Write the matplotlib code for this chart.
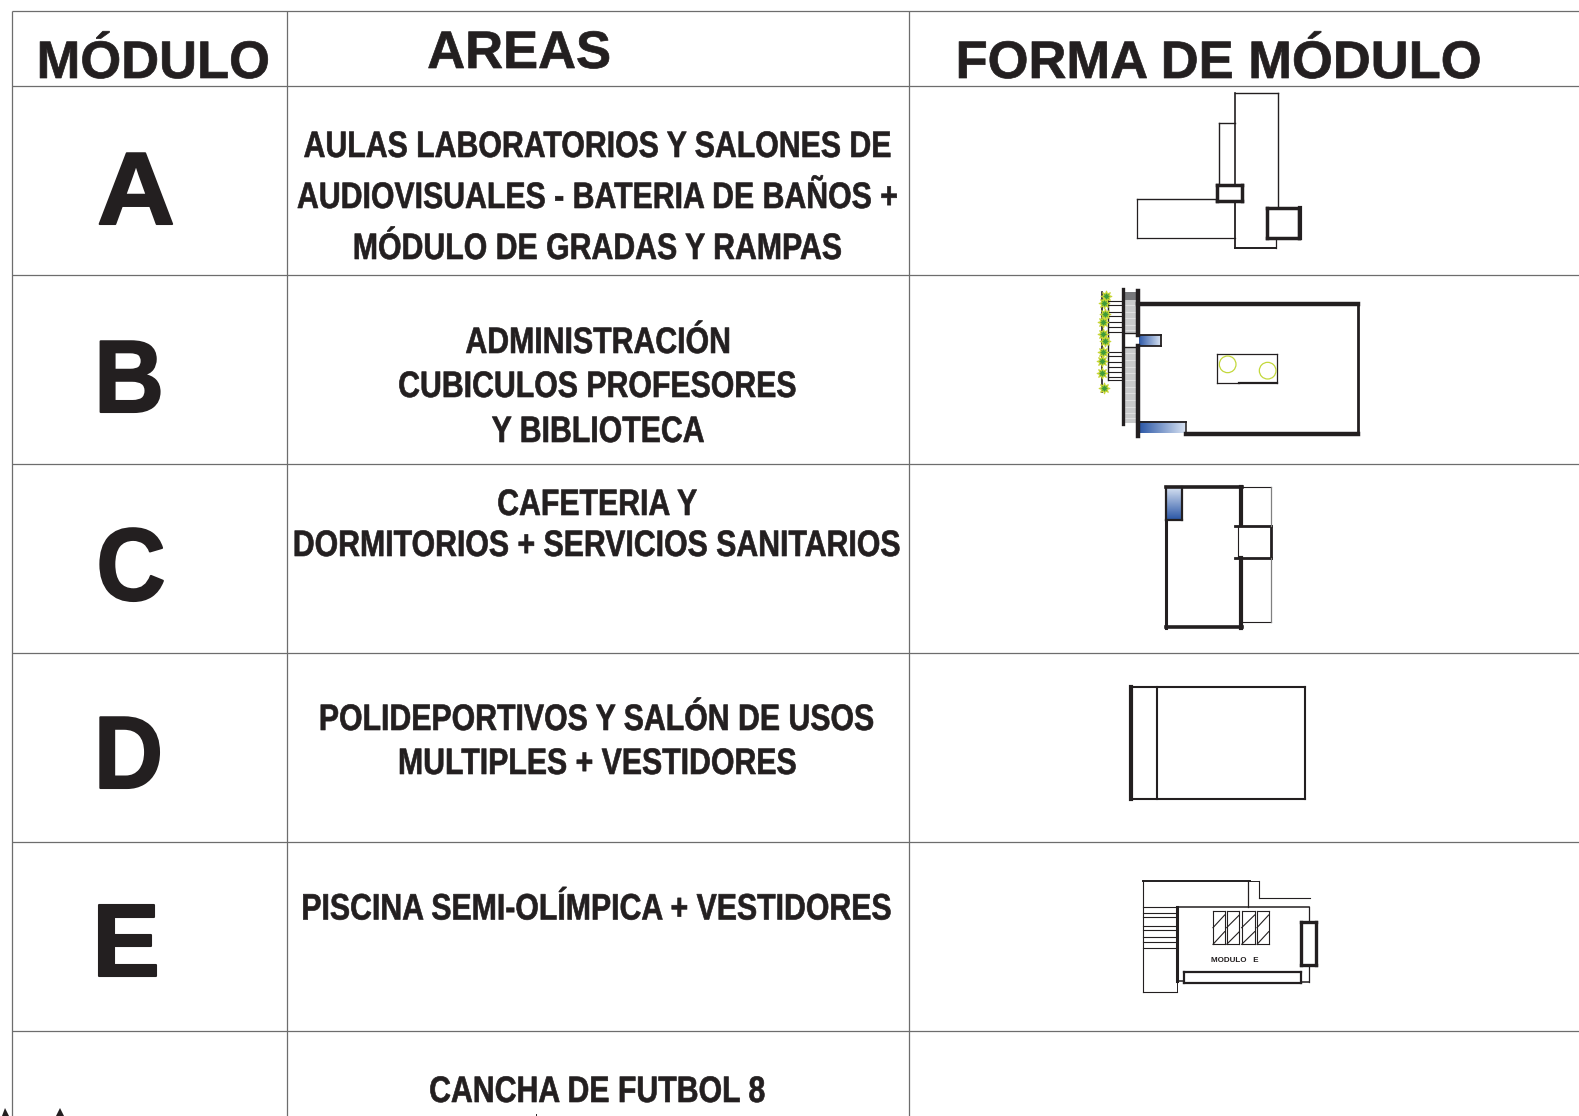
import numpy as np
import matplotlib
matplotlib.use("Agg")
import matplotlib.pyplot as plt
from matplotlib.colors import LinearSegmentedColormap
from matplotlib.patches import Circle, Polygon
from matplotlib.patheffects import AbstractPathEffect
from matplotlib.transforms import Affine2D

W, H = 1579, 1116
INK = '#231f20'
GRID = '#6d6d6d'

# ---- table content
headers = ['MÓDULO', 'AREAS', 'FORMA DE MÓDULO']
header_x = [153, 519, 1218]
header_y = [78, 68, 78]
modules = ['A', 'B', 'C', 'D', 'E']
module_x = [136, 129, 131, 128.5, 126]
module_y = [224, 412, 600, 788, 976]
module_sx = [1.05, 0.94, 0.93, 0.93, 0.98]
area_lines = ['AULAS LABORATORIOS Y SALONES DE', 'AUDIOVISUALES - BATERIA DE BAÑOS +',
              'MÓDULO DE GRADAS Y RAMPAS', 'ADMINISTRACIÓN', 'CUBICULOS PROFESORES', 'Y BIBLIOTECA',
              'CAFETERIA Y', 'DORMITORIOS + SERVICIOS SANITARIOS',
              'POLIDEPORTIVOS Y SALÓN DE USOS', 'MULTIPLES + VESTIDORES',
              'PISCINA SEMI-OLÍMPICA + VESTIDORES', 'CANCHA DE FUTBOL 8']
area_x = [597, 597, 597, 598, 597, 598, 597, 596, 596, 597, 596, 597]
area_y = [157, 208, 259, 353, 397, 442, 515, 556, 730, 774, 919.5, 1102]
row_y = [11, 86, 275, 464, 653, 842, 1031]
col_x = [12, 287, 909]

fig = plt.figure(figsize=(W / 100, H / 100), dpi=100)
ax = fig.add_axes([0, 0, 1, 1])
ax.set_xlim(0, W)
ax.set_ylim(H, 0)
ax.axis('off')


class Squeeze(AbstractPathEffect):
    """Draw the real text narrower about its anchor, with a light stroke for weight."""

    def __init__(self, x, sx, stroke=0.0):
        super().__init__()
        self.x, self.sx, self.stroke = x, sx, stroke

    def draw_path(self, renderer, gc, tpath, affine, rgbFace=None):
        cx = ax.transData.transform((self.x, 0))[0]
        t = affine + Affine2D().translate(-cx, 0).scale(self.sx, 1).translate(cx, 0)
        g = renderer.new_gc()
        g.copy_properties(gc)
        g.set_linewidth(self.stroke)
        if self.stroke > 0 and rgbFace is not None:
            g.set_foreground(rgbFace)
        renderer.draw_path(g, tpath, t, rgbFace)
        g.restore()


for y in row_y:
    ax.plot([12, W], [y, y], color=GRID, lw=0.9, solid_capstyle='butt')
for x in col_x:
    ax.plot([x, x], [11, H], color=GRID, lw=0.9, solid_capstyle='butt')

for t, x, y in zip(headers, header_x, header_y):
    ax.text(x, y, t, family='Liberation Sans', weight='bold', fontsize=38, color=INK, ha='center', va='baseline',
            path_effects=[Squeeze(x, 0.995, 0.5)])
for t, x, y, sx in zip(modules, module_x, module_y, module_sx):
    ax.text(x, y, t, family='Liberation Sans', weight='bold', fontsize=74, color=INK, ha='center', va='baseline',
            path_effects=[Squeeze(x, sx, 1.5)])
for t, x, y in zip(area_lines, area_x, area_y):
    ax.text(x, y, t, family='Liberation Sans', weight='bold', fontsize=26.5, color=INK, ha='center', va='baseline',
            path_effects=[Squeeze(x, 0.822, 0.45)])


def draw(origin, segs, color=INK):
    ox, oy = origin
    for x0, y0, x1, y1, w in segs:
        ax.plot([ox + x0 / 3, ox + x1 / 3], [oy + y0 / 3, oy + y1 / 3], color=color,
                lw=w, solid_capstyle='projecting')


def box(x0, y0, x1, y1, w):
    return [(x0, y0, x1, y0, w), (x1, y0, x1, y1, w), (x1, y1, x0, y1, w), (x0, y1, x0, y0, w)]


def gradient(origin, x0, y0, x1, y1, vertical=False):
    ox, oy = origin
    cmap = LinearSegmentedColormap.from_list('b', ['#2f5aa8', '#d7e2f2'])
    g = np.linspace(0, 1, 64)
    g = g[::-1, None] if vertical else g[None, :]
    ax.imshow(g, cmap=cmap, aspect='auto', zorder=1,
              extent=(ox + x0 / 3, ox + x1 / 3, oy + y1 / 3, oy + y0 / 3))


# ---- module A
O1 = (1080, 85)
a_thin = [(466, 25, 593, 25, 1.0), (466, 25, 466, 300, 1.2), (593, 25, 593, 370, 1.0),
          (417, 113, 466, 113, 1.0), (417, 113, 417, 300, 1.0),
          (172, 342, 411, 342, 1.0), (172, 342, 172, 460, 0.9), (172, 460, 466, 460, 0.9),
          (466, 347, 466, 490, 1.3), (466, 490, 587, 490, 1.4), (587, 460, 587, 490, 0.9)]
a_thick = box(411, 300, 485, 347, 2.5) + box(562, 370, 658, 460, 2.5) + [(660, 370, 660, 460, 3)]
draw(O1, a_thin)
draw(O1, a_thick)

# ---- module B
b_railing_y = [648, 660, 680, 693, 710, 725, 742, 800, 812, 830, 845, 860, 875, 885]
b_stripe_y = [660, 680, 700, 720, 735, 805, 825, 845, 865, 885, 905, 925, 945, 965, 985, 1000]
b_tree_x = [77, 72, 76, 70, 68, 76, 70, 66, 67, 73]
b_tree_y = [632, 655, 688, 712, 748, 768, 802, 828, 865, 910]
ax.fill_between([O1[0] + 133 / 3, O1[0] + 170 / 3], O1[1] + 620 / 3, O1[1] + 745 / 3, color='#c9cacb', lw=0, zorder=1)
ax.fill_between([O1[0] + 133 / 3, O1[0] + 170 / 3], O1[1] + 787 / 3, O1[1] + 1015 / 3, color='#c9cacb', lw=0, zorder=1)
ax.fill_between([O1[0] + 133 / 3, O1[0] + 170 / 3], O1[1] + 620 / 3, O1[1] + 645 / 3, color='#77787b', lw=0, zorder=1)
draw(O1, [(134, y, 169, y, 0.4) for y in b_stripe_y], color='#f1f1f1')
gradient(O1, 178, 752, 243, 783)
gradient(O1, 180, 1010, 318, 1045)
b_lines = [(175, 657, 833, 657, 3.2), (833, 657, 833, 1047, 2), (318, 1047, 833, 1047, 3.2),
           (175, 618, 175, 750, 3.2), (175, 782, 175, 1052, 3.2), (128, 612, 128, 1017, 2.4),
           (133, 745, 170, 745, 1), (133, 787, 170, 787, 1),
           (178, 750, 243, 750, 1.3), (243, 750, 243, 783, 1.3), (178, 783, 243, 783, 1.3),
           (180, 1010, 318, 1010, 1.3), (318, 1010, 318, 1045, 1.1),
           (65, 622, 65, 920, 1.2), (85, 645, 85, 885, 1.0),
           (410, 808, 591, 808, 0.9), (591, 808, 591, 893, 0.9), (410, 808, 410, 893, 0.9),
           (410, 893, 477, 893, 0.9), (477, 893, 591, 893, 1.6)]
b_lines += [(85, y, 125, y, 0.8) for y in b_railing_y]
draw(O1, b_lines)
for x, y in zip([443, 563], [838, 857]):
    ax.add_patch(Circle((O1[0] + x / 3, O1[1] + y / 3), 25 / 3, fill=False, ec='#c3d83c', lw=0.9, zorder=3))
ax.scatter([O1[0] + x / 3 for x in b_tree_x], [O1[1] + y / 3 for y in b_tree_y], s=60, marker=(8, 1, 0),
           c='#3f9b3a', edgecolors='#c9d634', linewidths=0.8, zorder=4)

# ---- modules C and D
O2 = (1100, 470)
gradient(O2, 202, 55, 245, 148, vertical=True)
c_lines = [(197, 50, 425, 50, 2.6), (197, 150, 197, 475, 2.2), (197, 471, 425, 471, 2.6),
           (423, 50, 423, 165, 3), (423, 265, 423, 475, 3),
           (199, 52, 199, 150, 1.6), (245, 52, 245, 150, 1.6), (199, 150, 245, 150, 1.6),
           (406, 168, 513, 168, 2), (406, 265, 513, 265, 2), (513, 168, 513, 265, 2),
           (415, 168, 415, 265, 0.8), (425, 50, 513, 50, 0.8), (425, 456, 513, 456, 0.8)]
draw(O2, c_lines)
draw(O2, [(513, 50, 513, 168, 0.9), (513, 265, 513, 456, 0.9)], color='#808080')
d_lines = box(92, 650, 614, 986, 1.5) + [(93, 650, 93, 986, 3), (171, 650, 171, 986, 1.5)]
draw(O2, d_lines)

# ---- module E
O3 = (1120, 865)
e_lines = [(70, 47, 390, 47, 1.4), (70, 47, 70, 380, 0.8), (70, 380, 170, 380, 0.8), (170, 350, 170, 380, 0.7),
           (385, 47, 385, 127, 0.9), (390, 47, 417, 47, 0.7), (417, 47, 417, 100, 0.8), (417, 100, 570, 100, 0.8),
           (170, 127, 568, 127, 1.1), (170, 127, 170, 348, 2.2), (568, 127, 568, 172, 0.9), (568, 300, 568, 350, 0.9),
           (170, 348, 192, 348, 1.1), (543, 350, 568, 350, 1.1)]
e_stair_y = [127, 143, 157, 182, 195, 215, 232, 250]
e_lines += [(70, y, 170, y, 0.8) for y in e_stair_y]
e_lines += box(543, 172, 588, 300, 2.4) + box(192, 322, 543, 355, 1.6)
e_hatch = [(279, 314), (320, 358), (365, 404), (411, 446)]
for x0, x1 in e_hatch:
    e_lines += box(x0, 138, x1, 238, 0.8)
    e_lines += [(x0, 188, x1, 150, 0.8), (x0, 238, x1, 200, 0.8)]
draw(O3, e_lines)
ax.text(O3[0] + 343 / 3, O3[1] + 292 / 3, 'MODULO   E', family='Liberation Sans', weight='bold',
        fontsize=5.8, color=INK, ha='center', va='baseline')

# ---- fragments cut off at the bottom edge
ax.add_patch(Polygon([(2, H), (5, 1108), (9, H)], color=INK, lw=0))
ax.add_patch(Polygon([(56, H), (60, 1108), (64, H)], color=INK, lw=0))
ax.plot([536, 536], [1114, H], color=INK, lw=0.7)

ax.set_xlim(0, W)
ax.set_ylim(H, 0)
fig.savefig('out.png', dpi=100, facecolor='white')
